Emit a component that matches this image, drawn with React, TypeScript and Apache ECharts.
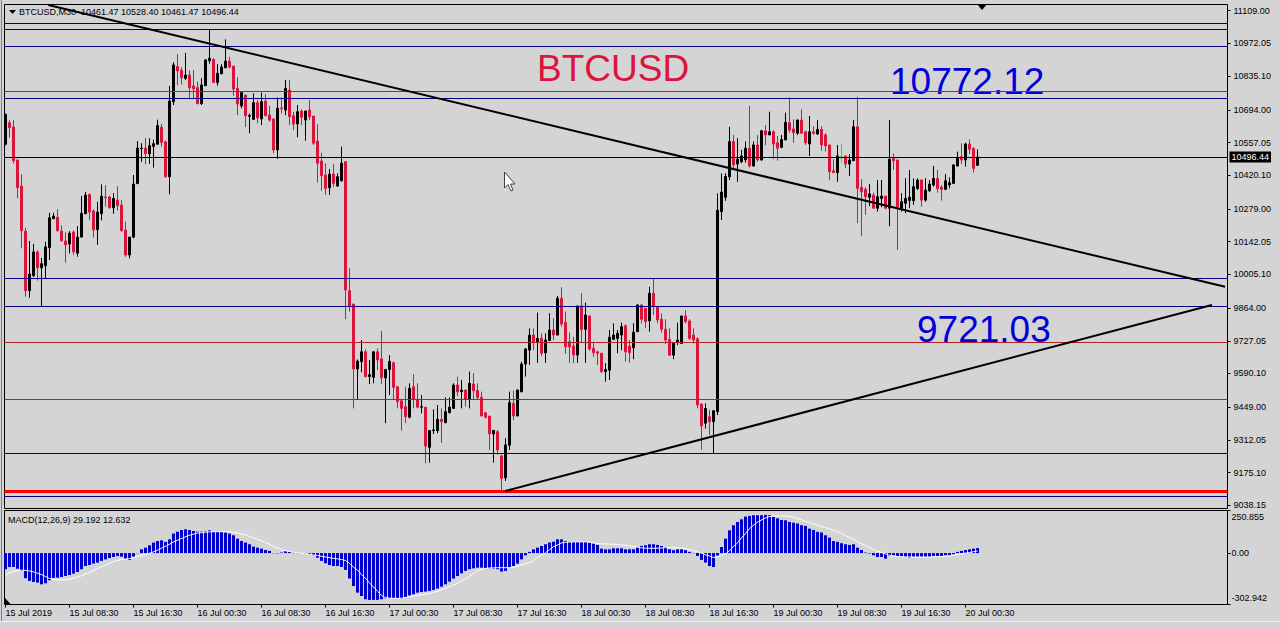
import React, { useEffect, useRef } from 'react';
import * as echarts from 'echarts';

// ---------- text ----------
const headerText = 'BTCUSD,M30  10461.47 10528.40 10461.47 10496.44';
const macdTitle = 'MACD(12,26,9) 29.192 12.632';
const bigTexts = ['BTCUSD', '10772.12', '9721.03'];

// ---------- axes ----------
const timeLabels = [
  '15 Jul 2019', '15 Jul 08:30', '15 Jul 16:30', '16 Jul 00:30', '16 Jul 08:30', '16 Jul 16:30',
  '17 Jul 00:30', '17 Jul 08:30', '17 Jul 16:30', '18 Jul 00:30', '18 Jul 08:30', '18 Jul 16:30',
  '19 Jul 00:30', '19 Jul 08:30', '19 Jul 16:30', '20 Jul 00:30',
];
const timeLabelBars = [0, 16, 32, 48, 64, 80, 96, 112, 128, 144, 160, 176, 192, 208, 224, 240];
const priceTicks = [
  11109.0, 10972.05, 10835.1, 10694.0, 10557.05, 10420.1, 10279.0, 10142.05, 10005.1,
  9864.0, 9727.05, 9590.1, 9449.0, 9312.05, 9175.1, 9038.15,
];
const macdTicks = [250.855, 0, -302.942];

// ---------- candles: [open, high, low, close], M30 bars from 15 Jul 2019 00:30 ----------
const candles: number[][] = [
  [10550, 10678, 10545, 10675], [10640, 10651, 10577, 10619], [10622, 10651, 10470, 10481], [10484, 10484, 10323, 10368],
  [10375, 10425, 10114, 10188], [10186, 10200, 9912, 9937], [9937, 10145, 9907, 10007], [10000, 10133, 9994, 10099],
  [10099, 10106, 9979, 10033], [10033, 10074, 9873, 10050], [10041, 10142, 9988, 10120], [10117, 10263, 10065, 10242],
  [10238, 10263, 10237, 10249], [10244, 10278, 10184, 10188], [10186, 10210, 10142, 10146], [10145, 10181, 10054, 10129],
  [10132, 10186, 10093, 10177], [10182, 10189, 10086, 10100], [10094, 10207, 10079, 10161], [10161, 10333, 10161, 10261],
  [10259, 10350, 10259, 10337], [10339, 10344, 10233, 10266], [10270, 10278, 10159, 10191], [10192, 10309, 10129, 10266],
  [10259, 10382, 10231, 10332], [10329, 10378, 10288, 10326], [10329, 10334, 10280, 10284], [10284, 10345, 10259, 10323],
  [10316, 10374, 10273, 10293], [10295, 10316, 10184, 10188], [10191, 10226, 10079, 10086], [10086, 10161, 10072, 10161],
  [10161, 10421, 10156, 10383], [10385, 10563, 10385, 10534], [10532, 10554, 10476, 10534], [10534, 10576, 10466, 10510],
  [10510, 10575, 10468, 10544], [10541, 10569, 10452, 10552], [10550, 10653, 10550, 10628], [10621, 10635, 10540, 10558],
  [10560, 10565, 10410, 10414], [10414, 10794, 10340, 10731], [10728, 10893, 10714, 10882], [10875, 10928, 10797, 10857],
  [10859, 10873, 10801, 10828], [10826, 10932, 10819, 10840], [10840, 10859, 10738, 10787], [10794, 10861, 10742, 10782],
  [10787, 10812, 10717, 10720], [10720, 10826, 10714, 10798], [10795, 10905, 10795, 10903], [10900, 11029, 10887, 10910],
  [10905, 10910, 10808, 10808], [10808, 10885, 10795, 10847], [10845, 10885, 10843, 10873], [10870, 10989, 10868, 10898],
  [10898, 10916, 10868, 10873], [10877, 10877, 10753, 10781], [10784, 10831, 10672, 10718], [10710, 10766, 10700, 10766],
  [10756, 10756, 10621, 10669], [10667, 10679, 10596, 10670], [10654, 10763, 10651, 10724], [10724, 10735, 10637, 10661],
  [10656, 10766, 10630, 10728], [10731, 10760, 10669, 10669], [10672, 10710, 10644, 10651], [10656, 10656, 10512, 10526],
  [10526, 10746, 10488, 10700], [10702, 10746, 10679, 10699], [10693, 10819, 10672, 10784], [10777, 10819, 10630, 10665],
  [10669, 10686, 10609, 10635], [10635, 10714, 10579, 10686], [10689, 10696, 10630, 10663], [10651, 10689, 10565, 10689],
  [10693, 10735, 10651, 10665], [10668, 10668, 10547, 10554], [10563, 10633, 10389, 10470], [10480, 10514, 10355, 10418],
  [10421, 10470, 10338, 10365], [10368, 10446, 10338, 10425], [10425, 10467, 10370, 10386], [10375, 10428, 10372, 10414],
  [10397, 10540, 10393, 10470], [10477, 10477, 9817, 9940], [9937, 10030, 9849, 9870], [9881, 9881, 9444, 9609],
  [9609, 9649, 9482, 9642], [9640, 9730, 9595, 9681], [9681, 9691, 9574, 9577], [9577, 9647, 9546, 9585],
  [9574, 9681, 9549, 9681], [9681, 9695, 9604, 9647], [9651, 9768, 9546, 9572], [9572, 9607, 9382, 9607],
  [9607, 9667, 9500, 9640], [9635, 9640, 9479, 9532], [9535, 9535, 9444, 9472], [9476, 9476, 9351, 9444],
  [9451, 9535, 9382, 9409], [9407, 9549, 9402, 9528], [9535, 9588, 9444, 9482], [9482, 9549, 9444, 9449],
  [9449, 9500, 9423, 9451], [9449, 9449, 9214, 9286], [9281, 9351, 9217, 9351], [9351, 9440, 9337, 9354],
  [9351, 9458, 9340, 9398], [9398, 9444, 9300, 9388], [9384, 9490, 9382, 9430], [9426, 9490, 9423, 9449],
  [9444, 9549, 9444, 9542], [9542, 9577, 9496, 9514], [9514, 9563, 9444, 9521], [9521, 9521, 9451, 9482],
  [9482, 9598, 9444, 9549], [9546, 9591, 9482, 9518], [9518, 9549, 9482, 9490], [9490, 9514, 9412, 9412],
  [9426, 9426, 9402, 9407], [9412, 9412, 9270, 9337], [9337, 9354, 9217, 9351], [9346, 9354, 9250, 9270],
  [9245, 9251, 9098, 9151], [9153, 9319, 9140, 9291], [9290, 9514, 9270, 9468], [9465, 9518, 9395, 9412],
  [9412, 9521, 9412, 9521], [9514, 9639, 9511, 9630], [9630, 9696, 9577, 9693], [9688, 9779, 9626, 9751],
  [9751, 9779, 9688, 9723], [9723, 9845, 9635, 9737], [9737, 9758, 9663, 9675], [9677, 9758, 9635, 9730],
  [9728, 9842, 9728, 9772], [9772, 9821, 9730, 9751], [9751, 9915, 9751, 9905], [9905, 9951, 9786, 9797],
  [9804, 9849, 9672, 9702], [9723, 9761, 9635, 9702], [9705, 9744, 9633, 9667], [9667, 9873, 9635, 9873],
  [9873, 9926, 9719, 9775], [9775, 9887, 9635, 9835], [9831, 9831, 9685, 9693], [9695, 9723, 9660, 9677],
  [9681, 9685, 9626, 9675], [9675, 9675, 9591, 9598], [9598, 9633, 9556, 9607], [9604, 9772, 9563, 9742],
  [9733, 9800, 9730, 9751], [9737, 9772, 9675, 9758], [9751, 9803, 9688, 9786], [9790, 9796, 9640, 9681],
  [9705, 9730, 9635, 9677], [9698, 9800, 9650, 9763], [9765, 9880, 9765, 9877], [9877, 9881, 9800, 9817],
  [9863, 9863, 9779, 9807], [9811, 9953, 9765, 9926], [9926, 9988, 9835, 9870], [9870, 9870, 9800, 9814],
  [9817, 9842, 9761, 9775], [9775, 9817, 9713, 9730], [9733, 9779, 9663, 9667], [9667, 9719, 9650, 9719],
  [9723, 9803, 9709, 9730], [9716, 9831, 9716, 9831], [9831, 9856, 9800, 9807], [9810, 9817, 9730, 9737],
  [9751, 9779, 9716, 9730], [9735, 9742, 9444, 9458], [9462, 9465, 9270, 9370], [9382, 9465, 9360, 9444],
  [9409, 9437, 9333, 9388], [9388, 9437, 9256, 9434], [9430, 10344, 9416, 10274], [10268, 10428, 10233, 10350],
  [10328, 10428, 10313, 10415], [10414, 10623, 10400, 10561], [10561, 10589, 10449, 10463], [10467, 10575, 10393, 10487],
  [10477, 10526, 10470, 10501], [10484, 10561, 10473, 10533], [10533, 10710, 10453, 10459], [10459, 10561, 10456, 10547],
  [10547, 10589, 10477, 10484], [10484, 10609, 10481, 10606], [10606, 10630, 10546, 10589], [10589, 10686, 10589, 10602],
  [10602, 10609, 10487, 10551], [10556, 10584, 10481, 10533], [10537, 10589, 10533, 10570], [10568, 10682, 10568, 10642],
  [10640, 10746, 10598, 10609], [10614, 10654, 10556, 10598], [10596, 10654, 10589, 10651], [10651, 10696, 10596, 10596],
  [10602, 10606, 10547, 10556], [10551, 10668, 10501, 10602], [10602, 10626, 10589, 10596], [10593, 10651, 10589, 10612],
  [10612, 10626, 10523, 10547], [10589, 10596, 10519, 10543], [10547, 10547, 10400, 10435], [10439, 10487, 10431, 10431],
  [10431, 10547, 10393, 10501], [10498, 10551, 10473, 10498], [10501, 10501, 10449, 10467], [10467, 10509, 10417, 10484],
  [10481, 10651, 10481, 10623], [10623, 10749, 10219, 10365], [10370, 10403, 10166, 10351], [10361, 10370, 10254, 10330],
  [10328, 10384, 10291, 10342], [10337, 10347, 10282, 10282], [10282, 10400, 10268, 10330], [10323, 10400, 10286, 10333],
  [10333, 10333, 10278, 10282], [10282, 10651, 10207, 10487], [10491, 10512, 10442, 10481], [10484, 10484, 10107, 10288],
  [10282, 10345, 10268, 10309], [10303, 10407, 10261, 10323], [10314, 10442, 10282, 10328], [10314, 10407, 10296, 10372],
  [10365, 10407, 10358, 10400], [10400, 10403, 10288, 10316], [10316, 10407, 10309, 10358], [10355, 10400, 10351, 10383],
  [10379, 10459, 10372, 10407], [10407, 10442, 10347, 10365], [10370, 10379, 10314, 10361], [10361, 10425, 10358, 10397],
  [10379, 10411, 10365, 10389], [10386, 10467, 10386, 10463], [10459, 10519, 10456, 10491], [10498, 10554, 10467, 10484],
  [10484, 10556, 10456, 10551], [10551, 10570, 10509, 10529], [10533, 10537, 10431, 10449], [10461.47, 10528.4, 10461.47, 10496.44],
];

// ---------- MACD(12,26,9) ----------
const macdMain = [
  -95, -82, -82, -92, -105, -148, -164, -170, -174, -184, -178, -160, -146, -145, -141, -135,
  -129, -121, -111, -95, -76, -70, -62, -56, -46, -37, -29, -23, -17, -21, -33, -40,
  -21, -1, 22, 32, 46, 62, 71, 75, 66, 81, 115, 126, 136, 140, 136, 130,
  126, 126, 128, 134, 125, 125, 125, 121, 115, 105, 85, 71, 62, 52, 38, 32,
  26, 18, 13, -1, -2, 3, 11, 7, 3, -1, -1, -3, -7, -13, -27, -46,
  -60, -70, -76, -76, -82, -99, -150, -194, -233, -253, -272, -276, -276, -276, -272, -266,
  -266, -266, -266, -268, -260, -250, -243, -233, -229, -227, -223, -217, -209, -198, -184, -168,
  -150, -135, -119, -105, -95, -90, -86, -86, -90, -90, -92, -95, -109, -105, -86, -76,
  -62, -37, -13, 7, 22, 32, 42, 52, 62, 67, 81, 81, 71, 67, 66, 66,
  66, 66, 62, 56, 48, 26, 22, 22, 28, 28, 28, 22, 22, 22, 36, 42,
  46, 52, 52, 48, 42, 36, 22, 17, 22, 22, 17, 7, -1, -17, -40, -56,
  -76, -82, -14, 36, 85, 134, 164, 183, 199, 215, 219, 223, 223, 223, 225, 223,
  213, 205, 195, 193, 183, 179, 174, 164, 160, 144, 136, 125, 121, 105, 91, 71,
  66, 58, 52, 48, 52, 32, 18, 3, -3, -13, -23, -23, -33, -17, -13, -17,
  -21, -23, -27, -23, -23, -23, -23, -23, -17, -17, -17, -13, -13, -7, 7, 13,
  18, 22, 26, 29.192,
];
const macdSignal = [
  -131, -116, -108, -104, -101, -102, -105, -111, -119, -127, -138, -150, -156, -158, -158, -157,
  -154, -148, -140, -134, -124, -115, -103, -91, -81, -70, -61, -50, -43, -38, -35, -33,
  -26, -20, -14, -8, -1, 7, 17, 29, 40, 52, 66, 76, 86, 96, 105, 112,
  118, 120, 123, 125, 126, 126, 126, 126, 125, 122, 119, 113, 108, 98, 89, 81,
  72, 62, 52, 38, 29, 20, 14, 9, 5, 2, -2, -4, -7, -11, -14, -19,
  -23, -27, -31, -34, -38, -44, -60, -84, -100, -127, -148, -176, -200, -225, -250, -262,
  -266, -266, -267, -266, -262, -256, -253, -249, -246, -242, -238, -232, -225, -216, -207, -198,
  -188, -177, -163, -150, -138, -120, -104, -96, -90, -88, -87, -86, -86, -86, -86, -83,
  -78, -70, -63, -56, -45, -25, -15, 2, 20, 38, 48, 60, 63, 65, 66, 66,
  66, 66, 64, 60, 56, 55, 54, 53, 52, 50, 48, 46, 42, 38, 34, 31,
  29, 28, 28, 29, 30, 32, 32, 32, 32, 30, 27, 22, 15, 8, 0, -10,
  -17, -26, -22, -15, -5, 13, 40, 60, 90, 115, 144, 165, 182, 195, 207, 215,
  218, 219, 219, 219, 216, 211, 203, 195, 186, 179, 171, 164, 156, 150, 144, 133,
  124, 116, 103, 91, 81, 68, 55, 44, 32, 22, 12, 3, -5, -13, -17, -20,
  -21, -22, -23, -23, -23, -23, -23, -23, -22, -21, -20, -18, -17, -13, -8, -4,
  0, 3, 8, 12.632,
];

// ---------- drawn objects (price levels / trend line anchors as [bar, price]) ----------
const navyLevels = [11056, 11031, 10961, 10742, 9989, 9871, 9256, 9074];
const redLevels = [10772.12, 9721.03, 9482];
const supportLevel = 9099;
const lastPrice = 10496.44;
const dojiBar = 209;
const descTrend = [[10.7, 11133], [304.9, 9953]];
const ascTrend = [[124.9, 9098], [301.6, 9877]];

const BG = '#d4d4d4';
const FONT = 'Liberation Sans, Arial, sans-serif';
const BULL = '#000000';
const BEAR = '#dc143c';

export default function App() {
  const ref = useRef<HTMLDivElement>(null);

  useEffect(() => {
    if (!ref.current) return;
    const chart = echarts.init(ref.current, null, { renderer: 'svg' });

    const candleData = candles.map((c, i) => {
      const item: any = { value: [i, c[0], c[3], c[2], c[1]] };
      if (i === dojiBar) {
        item.itemStyle = { color: '#00ff00', color0: '#00ff00', borderColor: '#00ff00', borderColor0: '#00ff00', borderColorDoji: '#00ff00' };
      }
      return item;
    });

    const xMin = -0.25;
    const xMax = 305.5;

    const hLines: any[] = [
      ...navyLevels.map((v) => ({ yAxis: v, lineStyle: { color: '#000080', width: 1, type: 'solid' } })),
      ...redLevels.map((v) => ({ yAxis: v, lineStyle: { color: '#b22222', width: 1, type: 'solid' } })),
      { yAxis: supportLevel, lineStyle: { color: '#ff0000', width: 3, type: 'solid' } },
      {
        yAxis: lastPrice,
        lineStyle: { color: '#000000', width: 1, type: 'solid' },
        label: {
          show: true, position: 'end', distance: 2, formatter: lastPrice.toFixed(2),
          color: '#ffffff', backgroundColor: '#000000', padding: [1, 2, 1, 2],
          fontSize: 9, fontFamily: FONT,
        },
      },
      [
        { coord: descTrend[0], lineStyle: { color: '#000', width: 2, type: 'solid' } },
        { coord: descTrend[1] },
      ],
      [
        { coord: ascTrend[0], lineStyle: { color: '#000', width: 2, type: 'solid' } },
        { coord: ascTrend[1] },
      ],
    ];

    const axisText = { color: '#000', fontSize: 9, fontFamily: FONT };

    const option: any = {
      animation: false,
      backgroundColor: BG,
      grid: [
        { left: 4.5, top: 4.5, width: 1223, height: 504, show: true, borderColor: '#000', borderWidth: 1, backgroundColor: 'transparent' },
        { left: 4.5, top: 510.5, width: 1223, height: 94, show: true, borderColor: '#000', borderWidth: 1, backgroundColor: 'transparent' },
      ],
      xAxis: [
        {
          type: 'value', gridIndex: 0, min: xMin, max: xMax,
          axisLine: { show: false, onZero: false }, axisTick: { show: false }, axisLabel: { show: false }, splitLine: { show: false },
        },
        {
          type: 'value', gridIndex: 1, min: xMin, max: xMax, position: 'bottom',
          axisLine: { show: false, onZero: false },
          axisTick: { show: true, customValues: timeLabelBars, length: 3, lineStyle: { color: '#000' } },
          axisLabel: {
            show: true, customValues: timeLabelBars, align: 'left', margin: 4,
            formatter: (v: number) => timeLabels[timeLabelBars.indexOf(Math.round(v))] ?? '',
            ...axisText,
          },
          splitLine: { show: false },
        },
      ],
      yAxis: [
        {
          type: 'value', gridIndex: 0, position: 'right', min: 9024.8, max: 11134.96, scale: true,
          axisLine: { show: false, onZero: false },
          axisTick: { show: true, customValues: priceTicks, length: 3, lineStyle: { color: '#000' } },
          axisLabel: { show: true, customValues: priceTicks, margin: 6, formatter: (v: number) => v.toFixed(2), ...axisText },
          splitLine: { show: false },
        },
        {
          type: 'value', gridIndex: 1, position: 'right', min: -302.942, max: 250.855,
          axisLine: { show: false, onZero: false },
          axisTick: { show: true, customValues: macdTicks, length: 3, lineStyle: { color: '#000' } },
          axisLabel: {
            show: true, customValues: macdTicks, margin: 4, ...axisText,
            formatter: (v: number) => {
              if (v === macdTicks[0]) return `{t|${v.toFixed(3)}}`;
              if (v === macdTicks[2]) return `{b|${v.toFixed(3)}}`;
              return v.toFixed(2);
            },
            rich: {
              t: { padding: [13, 0, 0, 0], color: '#000', fontSize: 9, fontFamily: FONT },
              b: { padding: [0, 0, 13, 0], color: '#000', fontSize: 9, fontFamily: FONT },
            },
          },
          splitLine: { show: false },
        },
      ],
      series: [
        {
          type: 'candlestick', xAxisIndex: 0, yAxisIndex: 0,
          encode: { x: 0, y: [1, 2, 3, 4] },
          barWidth: 2,
          data: candleData,
          itemStyle: { color: BULL, color0: BEAR, borderColor: BULL, borderColor0: BEAR, borderWidth: 1 },
          markLine: {
            silent: true, symbol: ['none', 'none'], animation: false,
            label: { show: false }, emphasis: { disabled: true },
            data: hLines,
          },
        },
        {
          type: 'bar', xAxisIndex: 1, yAxisIndex: 1, barWidth: 3,
          data: macdMain.map((v, i) => [i, v]),
          itemStyle: { color: '#0000cd' },
        },
        {
          type: 'line', xAxisIndex: 1, yAxisIndex: 1, showSymbol: false, symbol: 'none',
          data: macdSignal.map((v, i) => [i, v]),
          lineStyle: { color: '#ffffff', width: 1 },
        },
      ],
      graphic: [
        { type: 'line', shape: { x1: 1.5, y1: 0, x2: 1.5, y2: 621 }, style: { stroke: '#808080', lineWidth: 1 } },
        { type: 'line', shape: { x1: 0, y1: 621.5, x2: 1280, y2: 621.5 }, style: { stroke: '#f0f0f0', lineWidth: 1 } },
        { type: 'polygon', shape: { points: [[9, 10], [16, 10], [12.5, 14]] }, style: { fill: '#000' } },
        { type: 'text', x: 19, y: 12, style: { text: headerText, fill: '#000', fontSize: 9, fontFamily: FONT, verticalAlign: 'middle' } },
        { type: 'text', x: 8, y: 520, style: { text: macdTitle, fill: '#000', fontSize: 9, fontFamily: FONT, verticalAlign: 'middle' } },
        { type: 'polygon', shape: { points: [[977, 4], [987, 4], [982, 10]] }, style: { fill: '#000' } },
        { type: 'polygon', shape: { points: [[5, 598], [5, 604.5], [11, 604.5]] }, style: { fill: '#000' } },
        {
          type: 'polygon',
          shape: { points: [[504.5, 172], [504.5, 188], [508, 184.5], [511, 191], [513, 190], [510.5, 184], [515, 184]] },
          style: { fill: '#ffffff', stroke: '#404040', lineWidth: 1 },
        },
        { type: 'text', x: 537, y: 68, style: { text: bigTexts[0], fill: '#dc143c', fontSize: 37, fontFamily: FONT, verticalAlign: 'middle' } },
        { type: 'text', x: 890, y: 81, style: { text: bigTexts[1], fill: '#0000dd', fontSize: 37, fontFamily: FONT, verticalAlign: 'middle' } },
        { type: 'text', x: 917, y: 329, style: { text: bigTexts[2], fill: '#0000dd', fontSize: 37, fontFamily: FONT, verticalAlign: 'middle' } },
      ],
    };

    chart.setOption(option);
    return () => chart.dispose();
  }, []);

  return <div ref={ref} style={{ position: 'fixed', left: 0, top: 0, width: 1280, height: 628 }} />;
}
